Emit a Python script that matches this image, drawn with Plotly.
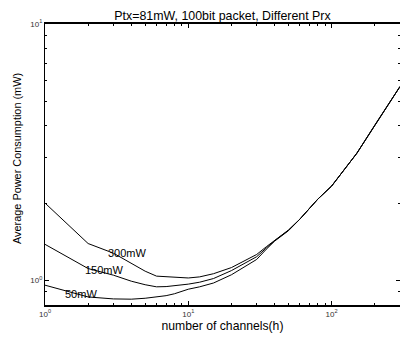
import plotly.graph_objects as go
import math

h = [1, 2, 3, 4, 5, 6, 7, 8, 10, 12, 15, 20, 25, 30, 35, 40, 50, 60, 80, 100, 150, 200, 300]
p300 = [2.00, 1.39, 1.275, 1.165, 1.084, 1.037, 1.03, 1.025, 1.02, 1.03, 1.06, 1.12, 1.20, 1.26, 1.35, 1.43, 1.57, 1.73, 2.07, 2.33, 3.13, 4.03, 5.70]
p150 = [1.38, 1.11, 1.046, 0.991, 0.96, 0.942, 0.944, 0.95, 0.965, 0.982, 1.015, 1.09, 1.17, 1.235, 1.335, 1.425, 1.565, 1.73, 2.07, 2.33, 3.13, 4.03, 5.70]
p50 = [0.956, 0.86, 0.845, 0.843, 0.85, 0.86, 0.87, 0.885, 0.922, 0.942, 0.975, 1.05, 1.135, 1.205, 1.32, 1.42, 1.56, 1.73, 2.07, 2.33, 3.13, 4.03, 5.70]

labels = ["300mW", "150mW", "50mW"]
label_px = [127, 104, 81]          # horizontal centre of each label (pixels)
label_val = [1.28, 1.10, 0.88]     # value at which each label sits

title = "Ptx=81mW, 100bit packet, Different Prx"
xtitle = "number of channels(h)"
ytitle = "Average Power Consumption (mW)"

font_family = "Liberation Sans, Arial, sans-serif"

fig = go.Figure()
for ys in (p300, p150, p50):
    fig.add_trace(go.Scatter(x=h, y=ys, mode="lines",
                             line=dict(color="black", width=1), showlegend=False))

def px_to_logx(px):
    return (px - 45) / 143.3

for lab, lx, ly in zip(labels, label_px, label_val):
    fig.add_annotation(x=px_to_logx(lx), y=math.log10(ly), text=lab, showarrow=False,
                       font=dict(size=11, color="black", family=font_family))

# y-axis title as rotated annotation
fig.add_annotation(xref="paper", yref="paper", x=(17 - 45) / 355, y=(305 - 159) / 281,
                   text=ytitle, textangle=-90, showarrow=False,
                   xanchor="center", yanchor="middle",
                   font=dict(size=10.9, color="black", family=font_family))

xminor = [2, 3, 4, 5, 6, 7, 8, 9, 20, 30, 40, 50, 60, 70, 80, 90, 200, 300]
yminor = [0.8, 0.9, 2, 3, 4, 5, 6, 7, 8, 9]

fig.update_layout(
    width=400, height=339,
    margin=dict(l=45, r=0, t=24, b=34),
    paper_bgcolor="white", plot_bgcolor="white",
    font=dict(family=font_family, color="black"),
    title=dict(text=title, x=0.5, xref="paper", y=1 - 16 / 339, yref="container",
               yanchor="middle",
               font=dict(size=12.4, color="black", family=font_family)),
    xaxis=dict(type="log", range=[0, math.log10(300)],
               tickmode="array", tickvals=[1, 10, 100],
               ticktext=["10<sup>0</sup>", "10<sup>1</sup>", "10<sup>2</sup>"],
               ticks="inside", ticklen=4, tickcolor="black", tickwidth=1,
               tickfont=dict(size=8, color="#333333"),
               showline=True, linecolor="black", linewidth=2, mirror="allticks",
               showgrid=False, zeroline=False,
               minor=dict(tickmode="array", tickvals=xminor, ticks="inside", ticklen=2,
                          tickcolor="black", showgrid=False),
               title=dict(text=xtitle, standoff=4, font=dict(size=12.2, color="black"))),
    yaxis=dict(type="log", range=[math.log10(0.8), 1],
               tickmode="array", tickvals=[1, 10],
               ticktext=["10<sup>0</sup>", "10<sup>1</sup>"],
               ticks="inside", ticklen=4, tickcolor="black", tickwidth=1,
               tickfont=dict(size=8, color="#333333"),
               showline=True, linecolor="black", linewidth=1, mirror="allticks",
               showgrid=False, zeroline=False,
               minor=dict(tickmode="array", tickvals=yminor, ticks="inside", ticklen=2,
                          tickcolor="black", showgrid=False)),
)

fig.write_html("out.html")
